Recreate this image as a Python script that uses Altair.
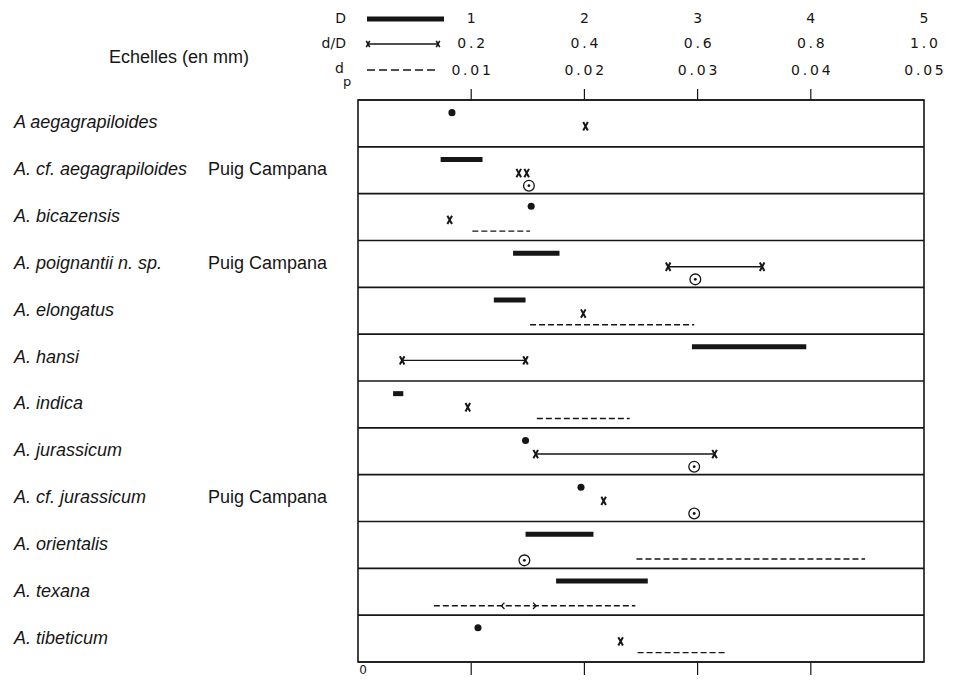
import altair as alt
import pandas as pd

INK = "#161616"

# ---------------- data ----------------
species = ["A aegagrapiloides", "A. cf. aegagrapiloides", "A. bicazensis",
           "A. poignantii n. sp.", "A. elongatus", "A. hansi", "A. indica",
           "A. jurassicum", "A. cf. jurassicum", "A. orientalis", "A. texana",
           "A. tibeticum"]
locality = ["", "Puig Campana", "", "Puig Campana", "", "", "", "",
            "Puig Campana", "", "", ""]

# D (mm), single values
D_point_row = [0, 2, 7, 8, 11]
D_point = [0.83, 1.53, 1.48, 1.97, 1.06]
# D (mm), ranges
D_range_row = [1, 3, 4, 5, 6, 9, 10]
D_min = [0.73, 1.37, 1.20, 2.95, 0.31, 1.48, 1.75]
D_max = [1.10, 1.78, 1.48, 3.96, 0.40, 2.08, 2.56]
# d/D, single values
dD_point_row = [0, 1, 1, 2, 4, 6, 8, 11]
dD_point = [0.402, 0.284, 0.298, 0.162, 0.398, 0.194, 0.434, 0.464]
# d/D, ranges
dD_range_row = [3, 5, 7]
dD_min = [0.548, 0.078, 0.314]
dD_max = [0.714, 0.296, 0.630]
# dp (mm), ranges
dp_range_row = [2, 4, 6, 9, 10, 11]
dp_min = [0.0101, 0.0152, 0.0158, 0.0246, 0.0067, 0.0247]
dp_max = [0.0152, 0.0297, 0.0240, 0.0448, 0.0245, 0.0324]
# circled-dot values (dp scale)
circ_row = [1, 3, 7, 8, 9]
circ_val = [0.0151, 0.0298, 0.0297, 0.0297, 0.0147]
# arrow heads on the A. texana dp range
arrow_row = [10, 10]
arrow_val = [0.0128, 0.0156]
arrow_dir = ["left", "right"]

# scale labels
tick_pos = [1, 2, 3, 4, 5]
D_labels = ["1", "2", "3", "4", "5"]
dD_labels = ["0.2", "0.4", "0.6", "0.8", "1.0"]
dp_labels = ["0.01", "0.02", "0.03", "0.04", "0.05"]
inner_ticks = [1, 2, 3, 4]

# conversion of each quantity onto the common D (mm) axis
K_D, K_dD, K_dp = 1.0, 5.0, 100.0
LEVEL = {"D": 0.27, "dD": 0.56, "dp": 0.80}

n_rows = len(species)

# ---------------- tables ----------------
rows_df = pd.DataFrame({"r": list(range(n_rows + 1))})
rows_df["x"] = 0
rows_df["x2"] = 5
rows_df["y"] = rows_df["r"]

lab_df = pd.DataFrame({"sp": species, "loc": locality,
                       "y": [i + 0.5 for i in range(n_rows)]})

dpt = pd.DataFrame({"x": [v * K_D for v in D_point],
                    "y": [r + LEVEL["D"] for r in D_point_row]})
drg = pd.DataFrame({"x": [v * K_D for v in D_min], "x2": [v * K_D for v in D_max],
                    "y": [r + LEVEL["D"] for r in D_range_row]})
xpt = pd.DataFrame({"x": [v * K_dD for v in dD_point],
                    "y": [r + LEVEL["dD"] for r in dD_point_row]})
xrg = pd.DataFrame({"x": [v * K_dD for v in dD_min], "x2": [v * K_dD for v in dD_max],
                    "y": [r + LEVEL["dD"] for r in dD_range_row]})
xends = pd.DataFrame({"x": [v * K_dD for v in dD_min + dD_max],
                      "y": [r + LEVEL["dD"] for r in dD_range_row * 2]})
prg = pd.DataFrame({"x": [v * K_dp for v in dp_min], "x2": [v * K_dp for v in dp_max],
                    "y": [r + LEVEL["dp"] for r in dp_range_row]})
cpt = pd.DataFrame({"x": [v * K_dp for v in circ_val],
                    "y": [r + LEVEL["dp"] + 0.03 for r in circ_row]})
apt = pd.DataFrame({"x": [v * K_dp for v in arrow_val],
                    "y": [r + LEVEL["dp"] for r in arrow_row],
                    "dir": arrow_dir})

sp = lambda s: "\u2009".join(list(s))
tk_D = pd.DataFrame({"x": tick_pos, "t": [sp(s) for s in D_labels]})
tk_dD = pd.DataFrame({"x": tick_pos, "t": [sp(s) for s in dD_labels]})
tk_dp = pd.DataFrame({"x": tick_pos, "t": [sp(s) for s in dp_labels]})
ticks_df = pd.DataFrame({"x": inner_ticks})
zero_df = pd.DataFrame({"x": [0], "t": ["0"]})
one = pd.DataFrame({"a": [0]})

# ---------------- encodings ----------------
xs = alt.Scale(domain=[0, 5], nice=False, zero=False)
ys = alt.Scale(domain=[0, n_rows], nice=False, zero=False, reverse=True)
X = alt.X("x:Q", scale=xs, axis=None)
Y = alt.Y("y:Q", scale=ys, axis=None)

XPATH = "M -0.55 -1 L 0.55 1 M 0.55 -1 L -0.55 1"
LPATH = "M 0.5 -1 L -0.5 0 L 0.5 1"
RPATH = "M -0.5 -1 L 0.5 0 L -0.5 1"

layers = []
layers.append(alt.Chart(rows_df).mark_rule(color=INK, strokeWidth=1.6)
              .encode(x=X, x2="x2:Q", y=Y))

# species & locality labels
layers.append(alt.Chart(lab_df).mark_text(align="left", baseline="middle",
              font="Liberation Sans", fontStyle="italic", fontSize=18, color=INK)
              .encode(x=alt.value(-344), y=Y, text="sp:N"))
layers.append(alt.Chart(lab_df).mark_text(align="left", baseline="middle",
              font="Liberation Sans", fontSize=18, color=INK)
              .encode(x=alt.value(-150), y=Y, text="loc:N"))

# data marks
layers.append(alt.Chart(drg).mark_rule(color=INK, strokeWidth=5, strokeCap="butt")
              .encode(x=X, x2="x2:Q", y=Y))
layers.append(alt.Chart(dpt).mark_point(shape="circle", filled=True, size=50,
              color=INK, opacity=1).encode(x=X, y=Y))
layers.append(alt.Chart(xrg).mark_rule(color=INK, strokeWidth=1.4)
              .encode(x=X, x2="x2:Q", y=Y))
layers.append(alt.Chart(pd.concat([xpt, xends])).mark_point(shape=XPATH, filled=False,
              size=70, strokeWidth=2, color=INK, opacity=1).encode(x=X, y=Y))
layers.append(alt.Chart(prg).mark_rule(color=INK, strokeWidth=1.4, strokeDash=[6, 3])
              .encode(x=X, x2="x2:Q", y=Y))
layers.append(alt.Chart(cpt).mark_point(shape="circle", filled=False, size=115,
              strokeWidth=1.3, color=INK, opacity=1).encode(x=X, y=Y))
layers.append(alt.Chart(cpt).mark_point(shape="circle", filled=True, size=8,
              color=INK, opacity=1).encode(x=X, y=Y))
layers.append(alt.Chart(apt).mark_point(filled=False, size=40, strokeWidth=1.3,
              color=INK, opacity=1).encode(
              x=X, y=Y, shape=alt.Shape("dir:N", scale=alt.Scale(domain=["left", "right"],
              range=[LPATH, RPATH]), legend=None)))

# ticks (top & bottom)
layers.append(alt.Chart(ticks_df).mark_rule(color=INK, strokeWidth=1.2)
              .encode(x=X, y=alt.value(-11), y2=alt.value(0)))
layers.append(alt.Chart(ticks_df).mark_rule(color=INK, strokeWidth=1.2)
              .encode(x=X, y=alt.value(563), y2=alt.value(575)))
layers.append(alt.Chart(zero_df).mark_text(font="DejaVu Sans", fontSize=12,
              baseline="middle", dx=5, color=INK)
              .encode(x=X, y=alt.value(570), text="t:N"))

# top scale labels
for df, yy in [(tk_D, -81), (tk_dD, -56), (tk_dp, -29)]:
    layers.append(alt.Chart(df).mark_text(font="DejaVu Sans", fontSize=14,
                  baseline="middle", color=INK)
                  .encode(x=X, y=alt.value(yy), text="t:N"))

# header
hdr = dict(font="DejaVu Sans", fontSize=14, baseline="middle", color=INK)
layers.append(alt.Chart(one).mark_text(text="Echelles (en mm)", font="Liberation Sans",
              fontSize=18, baseline="middle", color=INK)
              .encode(x=alt.value(-179), y=alt.value(-42)))
layers.append(alt.Chart(one).mark_text(text="D", align="right", **hdr)
              .encode(x=alt.value(-12), y=alt.value(-81)))
layers.append(alt.Chart(one).mark_text(text="d/D", align="right", **hdr)
              .encode(x=alt.value(-12), y=alt.value(-56)))
layers.append(alt.Chart(one).mark_text(text="d", align="right", **hdr)
              .encode(x=alt.value(-14), y=alt.value(-31)))
layers.append(alt.Chart(one).mark_text(text="p", align="left", font="DejaVu Sans",
              fontSize=13, baseline="middle", color=INK)
              .encode(x=alt.value(-15), y=alt.value(-18)))
# legend samples
layers.append(alt.Chart(one).mark_rule(color=INK, strokeWidth=5, strokeCap="butt")
              .encode(x=alt.value(9), x2=alt.value(86), y=alt.value(-81)))
layers.append(alt.Chart(one).mark_rule(color=INK, strokeWidth=1.4)
              .encode(x=alt.value(10), x2=alt.value(80), y=alt.value(-56)))
layers.append(alt.Chart(one).mark_point(shape=XPATH, filled=False, size=40, strokeWidth=1.6,
              color=INK, opacity=1).encode(x=alt.value(10), y=alt.value(-56)))
layers.append(alt.Chart(one).mark_point(shape=XPATH, filled=False, size=40, strokeWidth=1.6,
              color=INK, opacity=1).encode(x=alt.value(80), y=alt.value(-56)))
layers.append(alt.Chart(one).mark_rule(color=INK, strokeWidth=1.4, strokeDash=[8, 4])
              .encode(x=alt.value(9), x2=alt.value(79), y=alt.value(-30)))

chart = alt.layer(*layers).properties(
    width=566, height=562,
    autosize=alt.AutoSizeParams(type="none"),
    padding={"left": 350, "top": 92, "right": 22, "bottom": 17},
    background="white",
).configure_view(stroke=INK, strokeWidth=1.6)

chart.save("out.html", embed_options={"renderer": "svg", "actions": False})
